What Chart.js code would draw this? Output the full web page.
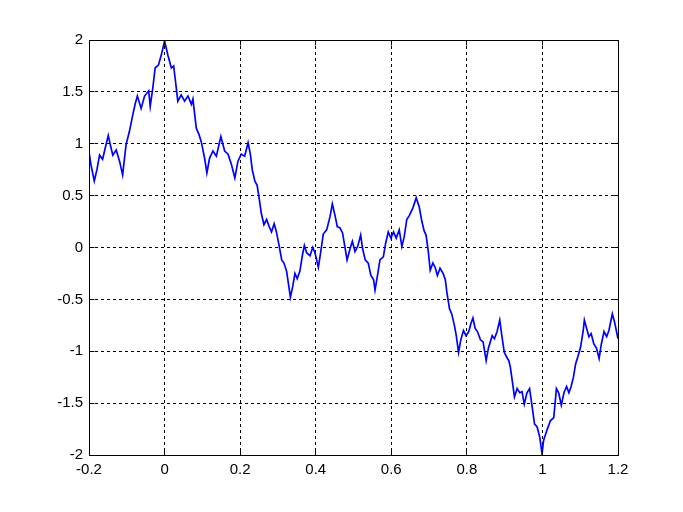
<!DOCTYPE html>
<html>
<head>
<meta charset="utf-8">
<script src="https://cdn.jsdelivr.net/npm/chart.js@4/dist/chart.umd.min.js"></script>
<style>
  html, body { margin: 0; padding: 0; background: #ffffff; }
  #wrap { width: 683px; height: 512px; position: relative; }
</style>
</head>
<body>
<div id="wrap"><canvas id="c" width="683" height="512"></canvas></div>
<script>
// ---- data ----
const xValues = [
  -0.2, -0.195, -0.191, -0.186, -0.179, -0.172, -0.164, -0.155, -0.149, -0.143,
  -0.137, -0.128, -0.119, -0.111, -0.102, -0.093, -0.084, -0.078, -0.072, -0.062,
  -0.053, -0.042, -0.038, -0.031, -0.025, -0.016, -0.007, 0.0, 0.009, 0.018,
  0.024, 0.029, 0.035, 0.044, 0.053, 0.062, 0.071, 0.075, 0.084, 0.091,
  0.097, 0.106, 0.112, 0.119, 0.128, 0.137, 0.149, 0.159, 0.168, 0.177,
  0.186, 0.194, 0.203, 0.212, 0.221, 0.227, 0.232, 0.239, 0.245, 0.250,
  0.256, 0.263, 0.270, 0.277, 0.283, 0.290, 0.296, 0.303, 0.310, 0.316,
  0.323, 0.327, 0.333, 0.339, 0.345, 0.351, 0.358, 0.365, 0.370, 0.376,
  0.385, 0.392, 0.398, 0.407, 0.413, 0.420, 0.429, 0.438, 0.444, 0.451,
  0.457, 0.464, 0.471, 0.477, 0.483, 0.491, 0.497, 0.504, 0.511, 0.519,
  0.524, 0.531, 0.539, 0.546, 0.553, 0.557, 0.563, 0.570, 0.579, 0.585,
  0.592, 0.599, 0.606, 0.613, 0.621, 0.628, 0.634, 0.641, 0.648, 0.657,
  0.666, 0.674, 0.681, 0.687, 0.692, 0.698, 0.703, 0.710, 0.716, 0.722,
  0.729, 0.737, 0.743, 0.747, 0.754, 0.760, 0.767, 0.772, 0.778, 0.784,
  0.791, 0.798, 0.805, 0.811, 0.816, 0.822, 0.828, 0.836, 0.843, 0.851,
  0.857, 0.867, 0.873, 0.880, 0.887, 0.893, 0.899, 0.906, 0.911, 0.915,
  0.920, 0.926, 0.933, 0.940, 0.946, 0.952, 0.959, 0.966, 0.973, 0.979,
  0.986, 0.993, 0.999, 1.003, 1.012, 1.021, 1.030, 1.037, 1.043, 1.050,
  1.057, 1.064, 1.070, 1.076, 1.082, 1.088, 1.094, 1.101, 1.108, 1.111,
  1.117, 1.123, 1.129, 1.136, 1.143, 1.150, 1.156, 1.163, 1.170, 1.176,
  1.185, 1.191, 1.2
];
const yValues = [
  0.92, 0.80, 0.73, 0.64, 0.75, 0.89, 0.85, 0.99, 1.08, 0.98,
  0.89, 0.94, 0.83, 0.70, 0.99, 1.12, 1.28, 1.38, 1.46, 1.34,
  1.46, 1.51, 1.36, 1.54, 1.73, 1.76, 1.88, 1.99, 1.85, 1.73,
  1.75, 1.60, 1.41, 1.47, 1.41, 1.46, 1.38, 1.43, 1.15, 1.09,
  1.02, 0.86, 0.72, 0.86, 0.93, 0.88, 1.07, 0.93, 0.90, 0.80,
  0.67, 0.83, 0.90, 0.88, 1.01, 0.90, 0.75, 0.64, 0.60, 0.48,
  0.33, 0.22, 0.27, 0.20, 0.15, 0.23, 0.15, 0.02, -0.12, -0.15,
  -0.23, -0.33, -0.48, -0.38, -0.25, -0.30, -0.23, -0.07, 0.02, -0.05,
  -0.08, 0.00, -0.05, -0.19, -0.05, 0.13, 0.17, 0.30, 0.42, 0.31,
  0.20, 0.19, 0.14, 0.01, -0.12, -0.01, 0.06, -0.04, 0.01, 0.12,
  -0.01, -0.12, -0.15, -0.27, -0.31, -0.41, -0.28, -0.12, -0.09, 0.04,
  0.15, 0.09, 0.15, 0.09, 0.17, 0.01, 0.10, 0.27, 0.31, 0.38,
  0.48, 0.39, 0.25, 0.16, 0.12, -0.04, -0.22, -0.15, -0.19, -0.27,
  -0.20, -0.25, -0.31, -0.43, -0.59, -0.64, -0.75, -0.85, -1.01, -0.89,
  -0.80, -0.85, -0.81, -0.73, -0.68, -0.78, -0.81, -0.89, -0.91, -1.09,
  -0.97, -0.85, -0.88, -0.81, -0.70, -0.86, -1.01, -1.06, -1.09, -1.15,
  -1.28, -1.44, -1.36, -1.40, -1.39, -1.51, -1.40, -1.36, -1.54, -1.70,
  -1.73, -1.83, -1.99, -1.86, -1.76, -1.67, -1.64, -1.36, -1.40, -1.52,
  -1.40, -1.34, -1.40, -1.34, -1.25, -1.12, -1.05, -0.96, -0.80, -0.70,
  -0.78, -0.86, -0.83, -0.93, -0.97, -1.07, -0.93, -0.81, -0.86, -0.80,
  -0.64, -0.72, -0.88
];
const xTickValues = [-0.2, 0, 0.2, 0.4, 0.6, 0.8, 1, 1.2];
const xTickLabels = ['-0.2', '0', '0.2', '0.4', '0.6', '0.8', '1', '1.2'];
const yTickValues = [-2, -1.5, -1, -0.5, 0, 0.5, 1, 1.5, 2];
const yTickLabels = ['-2', '-1.5', '-1', '-0.5', '0', '0.5', '1', '1.5', '2'];

const points = xValues.map((x, i) => ({ x: x, y: yValues[i] }));

const align = p => Math.round(p - 0.5) + 0.5;

// box + inward ticks, drawn from the library's scales
const boxPlugin = {
  id: 'box',
  afterDraw(chart) {
    const { ctx, scales } = chart;
    ctx.save();
    ctx.strokeStyle = '#000';
    ctx.lineWidth = 1;
    ctx.setLineDash([]);
    const L = align(scales.x.getPixelForValue(xTickValues[0]));
    const R = align(scales.x.getPixelForValue(xTickValues[xTickValues.length - 1]));
    const B = align(scales.y.getPixelForValue(yTickValues[0]));
    const T = align(scales.y.getPixelForValue(yTickValues[yTickValues.length - 1]));
    ctx.strokeRect(L, T, R - L, B - T);
    const tl = 5;
    ctx.beginPath();
    xTickValues.forEach(v => {
      const px = align(scales.x.getPixelForValue(v));
      ctx.moveTo(px, B); ctx.lineTo(px, B - tl);
      ctx.moveTo(px, T); ctx.lineTo(px, T + tl);
    });
    yTickValues.forEach(v => {
      const py = align(scales.y.getPixelForValue(v));
      ctx.moveTo(L, py); ctx.lineTo(L + tl, py);
      ctx.moveTo(R, py); ctx.lineTo(R - tl, py);
    });
    ctx.stroke();
    ctx.restore();
  }
};

const bgPlugin = {
  id: 'bg',
  beforeDraw(chart) {
    const ctx = chart.ctx;
    ctx.save();
    ctx.fillStyle = '#ffffff';
    ctx.fillRect(0, 0, chart.width, chart.height);
    ctx.restore();
  }
};

const tickFont = { family: '"Liberation Sans", Arial, sans-serif', size: 15 };

new Chart(document.getElementById('c'), {
  type: 'line',
  data: {
    datasets: [{
      data: points,
      borderColor: 'rgb(0,0,255)',
      borderWidth: 1.7,
      pointRadius: 0,
      tension: 0,
      fill: false
    }]
  },
  options: {
    responsive: false,
    animation: false,
    layout: { padding: { left: 0, right: 65, top: 40, bottom: 27 } },
    plugins: { legend: { display: false }, tooltip: { enabled: false } },
    scales: {
      x: {
        type: 'linear',
        min: -0.2, max: 1.2,
        afterBuildTicks: s => { s.ticks = xTickValues.map(v => ({ value: v })); },
        afterFit: s => { s.height = 30; },
        ticks: {
          color: '#000', font: tickFont, padding: 6, maxRotation: 0, autoSkip: false,
          callback: (v, i) => xTickLabels[i]
        },
        grid: { color: '#000', lineWidth: 1, drawTicks: false },
        border: { display: false, dash: [3, 3] }
      },
      y: {
        type: 'linear',
        min: -2, max: 2,
        afterBuildTicks: s => { s.ticks = yTickValues.map(v => ({ value: v })); },
        afterFit: s => { s.width = 89; },
        ticks: {
          color: '#000', font: tickFont, padding: 6, autoSkip: false,
          callback: (v, i) => yTickLabels[i]
        },
        grid: { color: '#000', lineWidth: 1, drawTicks: false },
        border: { display: false, dash: [3, 3] }
      }
    }
  },
  plugins: [bgPlugin, boxPlugin]
});
</script>
</body>
</html>
